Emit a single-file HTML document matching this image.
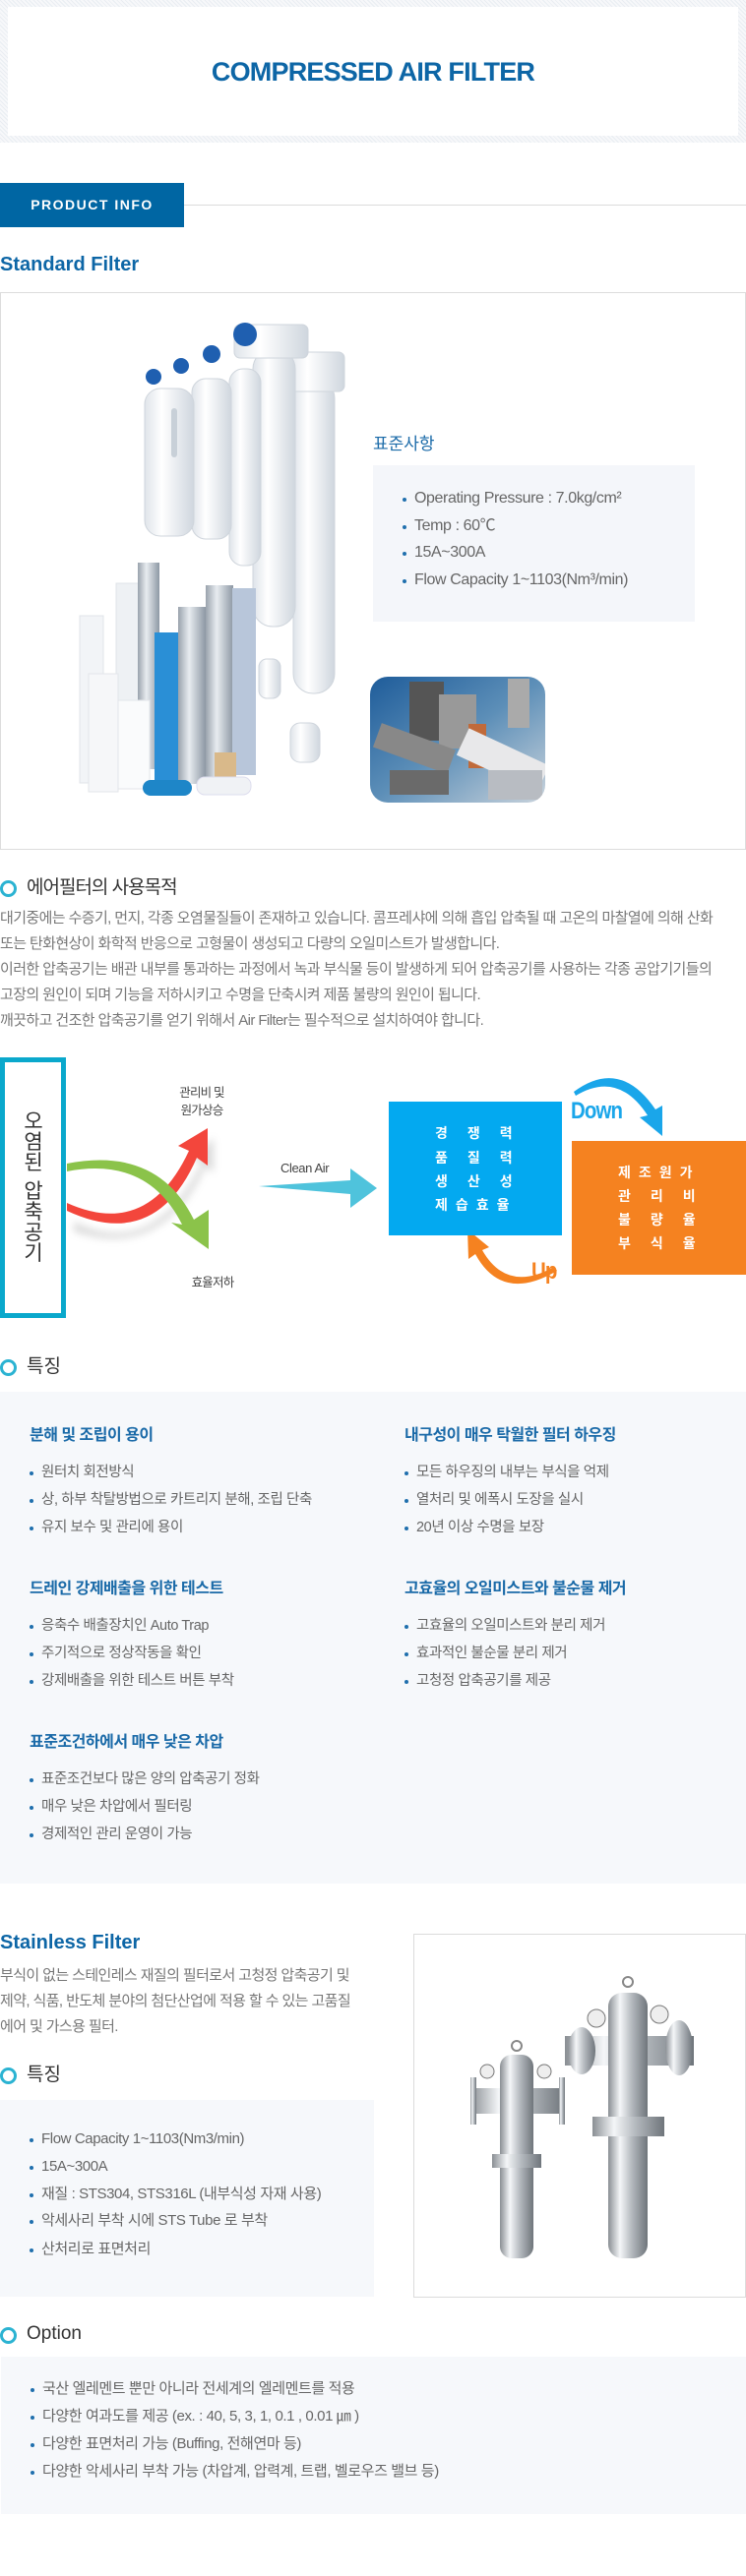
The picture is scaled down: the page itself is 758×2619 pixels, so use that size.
<!DOCTYPE html>
<html><head><meta charset="utf-8">
<style>
*{margin:0;padding:0;box-sizing:border-box}
body{width:758px;height:2619px;background:#fff;position:relative;overflow:hidden;font-family:"Liberation Sans","Noto Sans CJK KR",sans-serif;color:#666}
.a{position:absolute;white-space:nowrap}
.kr{font-family:"Liberation Sans","Noto Sans CJK KR",sans-serif}
.h{font-size:19px;color:#333;line-height:24px}
.ring{position:absolute;width:17px;height:17px;border:3px solid #2bb3d2;border-radius:50%}
.p{font-size:15px;letter-spacing:-0.6px;color:#777;line-height:20px}
.li{font-size:14.5px;color:#666;line-height:18px;letter-spacing:-0.4px}
.li:before{content:"";position:absolute;left:-12px;top:8px;width:4px;height:4px;border-radius:50%;background:#1f6fad}
.fh{font-size:16px;font-weight:bold;color:#1a6aa8;letter-spacing:-0.5px;line-height:20px}
.bt{color:#fff;font-size:14px;font-weight:bold;line-height:18px}
</style></head><body>

<!-- header -->
<div class="a" style="left:0;top:0;width:758px;height:145px;background:repeating-linear-gradient(45deg,#e9edf2 0 1px,#f7f8fa 1px 3px)"></div>
<div class="a" style="left:8px;top:7px;width:742px;height:131px;background:#fff"></div>
<div class="a" style="left:0;top:56px;width:758px;text-align:center;font-size:27px;font-weight:bold;color:#0d66a6;letter-spacing:-0.8px;line-height:34px">COMPRESSED AIR FILTER</div>

<!-- product info -->
<div class="a" style="left:187px;top:208px;width:571px;height:1px;background:#dcdcdc"></div>
<div class="a" style="left:0;top:186px;width:187px;height:45px;background:#0066a3;color:#fff;font-size:14px;font-weight:bold;letter-spacing:1.5px;text-align:center;line-height:45px">PRODUCT INFO</div>
<div class="a" style="left:0;top:256px;font-size:20px;font-weight:bold;color:#0d66a6;line-height:26px">Standard Filter</div>

<!-- standard box -->
<div class="a" style="left:0;top:297px;width:758px;height:567px;border:1px solid #dcdcdc"></div>
<svg class="a" style="left:70px;top:320px" width="300" height="500" viewBox="70 320 300 500">
 <defs>
  <linearGradient id="wg" x1="0" x2="1"><stop offset="0" stop-color="#dfe4ea"/><stop offset=".35" stop-color="#fff"/><stop offset="1" stop-color="#cfd6de"/></linearGradient>
  <linearGradient id="mg" x1="0" x2="1"><stop offset="0" stop-color="#9aa3ad"/><stop offset=".4" stop-color="#e8ecf0"/><stop offset="1" stop-color="#8d98a4"/></linearGradient>
 </defs>
 <rect x="298" y="385" width="42" height="320" rx="20" fill="url(#wg)" stroke="#cfd5dc"/>
 <rect x="292" y="358" width="58" height="40" rx="6" fill="url(#wg)" stroke="#cfd5dc"/>
 <rect x="257" y="355" width="43" height="282" rx="20" fill="url(#wg)" stroke="#cfd5dc"/>
 <rect x="238" y="330" width="75" height="34" rx="6" fill="url(#wg)" stroke="#cfd5dc"/>
 <circle cx="249" cy="340" r="12" fill="#1f5fb0"/>
 <rect x="233" y="375" width="32" height="200" rx="14" fill="url(#wg)" stroke="#cfd5dc"/>
 <circle cx="215" cy="360" r="9" fill="#1f5fb0"/>
 <rect x="195" y="385" width="40" height="163" rx="14" fill="url(#wg)" stroke="#cfd5dc"/>
 <circle cx="184" cy="372" r="8" fill="#1f5fb0"/>
 <rect x="147" y="395" width="50" height="150" rx="16" fill="url(#wg)" stroke="#cfd5dc"/>
 <circle cx="156" cy="383" r="8" fill="#1f5fb0"/>
 <rect x="174" y="415" width="6" height="50" rx="3" fill="#c8d0d8"/>
 <rect x="263" y="670" width="22" height="40" rx="8" fill="url(#wg)" stroke="#cfd5dc"/>
 <rect x="295" y="735" width="30" height="40" rx="10" fill="url(#wg)" stroke="#cfd5dc"/>
 <rect x="81" y="626" width="24" height="170" fill="#f2f4f7" stroke="#e0e4e8"/>
 <rect x="118" y="593" width="28" height="200" fill="#eef1f4" stroke="#e0e4e8"/>
 <rect x="140" y="572" width="22" height="210" fill="url(#mg)"/>
 <rect x="157" y="643" width="30" height="150" fill="#2a8fd6"/>
 <rect x="181" y="617" width="28" height="180" fill="url(#mg)"/>
 <rect x="209" y="595" width="28" height="200" fill="url(#mg)"/>
 <rect x="236" y="598" width="24" height="190" fill="#b8c6da"/>
 <rect x="90" y="685" width="30" height="120" fill="#f6f7f9" stroke="#e3e6ea"/>
 <rect x="120" y="712" width="32" height="90" fill="#fafbfc" stroke="#e3e6ea"/>
 <rect x="218" y="765" width="22" height="40" fill="#d9b98a"/>
 <rect x="145" y="793" width="50" height="16" rx="8" fill="#1e86c8"/>
 <rect x="200" y="790" width="55" height="18" rx="8" fill="#f0f2f5" stroke="#dde"/>
</svg>

<div class="a kr" style="left:379px;top:440px;font-size:17px;color:#1a6aa8;line-height:24px">표준사항</div>
<div class="a" style="left:379px;top:473px;width:327px;height:159px;background:#f4f6fa"></div>
<div class="a li" style="left:421px;top:498px;font-size:16px">Operating Pressure : 7.0kg/cm²</div>
<div class="a li" style="left:421px;top:526px;font-size:16px">Temp : 60℃</div>
<div class="a li" style="left:421px;top:553px;font-size:16px">15A~300A</div>
<div class="a li" style="left:421px;top:581px;font-size:16px">Flow Capacity 1~1103(Nm³/min)</div>

<svg class="a" style="left:376px;top:688px" width="178" height="128">
 <defs><clipPath id="cp"><rect width="178" height="128" rx="18"/></clipPath>
 <linearGradient id="bg1" x1="0" y1="0" x2="1" y2="1"><stop offset="0" stop-color="#1e5c9a"/><stop offset=".5" stop-color="#5d8fb8"/><stop offset="1" stop-color="#c9d3dc"/></linearGradient></defs>
 <g clip-path="url(#cp)">
  <rect width="178" height="128" fill="url(#bg1)"/>
  <rect x="40" y="5" width="35" height="60" fill="#555"/>
  <rect x="70" y="18" width="38" height="55" fill="#999"/>
  <rect x="100" y="48" width="18" height="45" fill="#c06a3a"/>
  <rect x="140" y="2" width="22" height="50" fill="#aaa"/>
  <rect x="5" y="60" width="80" height="26" fill="#888" transform="rotate(20 45 73)"/>
  <rect x="90" y="70" width="90" height="30" fill="#e8e8ea" transform="rotate(25 135 85)"/>
  <rect x="20" y="95" width="60" height="25" fill="#6a6a6a"/>
  <rect x="120" y="95" width="55" height="30" fill="#b8bcc2"/>
 </g>
</svg>

<!-- purpose -->
<div class="ring" style="left:0;top:895px"></div>
<div class="a h kr" style="left:27px;top:891px;letter-spacing:-1px">에어필터의 사용목적</div>
<div class="a p" style="left:0;top:924px">대기중에는 수증기, 먼지, 각종 오염물질들이 존재하고 있습니다. 콤프레샤에 의해 흡입 압축될 때 고온의 마찰열에 의해 산화</div>
<div class="a p" style="left:0;top:950px">또는 탄화현상이 화학적 반응으로 고형물이 생성되고 다량의 오일미스트가 발생합니다.</div>
<div class="a p" style="left:0;top:976px">이러한 압축공기는 배관 내부를 통과하는 과정에서 녹과 부식물 등이 발생하게 되어 압축공기를 사용하는 각종 공압기기들의</div>
<div class="a p" style="left:0;top:1002px">고장의 원인이 되며 기능을 저하시키고 수명을 단축시켜 제품 불량의 원인이 됩니다.</div>
<div class="a p" style="left:0;top:1028px">깨끗하고 건조한 압축공기를 얻기 위해서 Air Filter는 필수적으로 설치하여야 합니다.</div>

<!-- diagram -->
<div class="a" style="left:0;top:1075px;width:67px;height:265px;border:5px solid #0aa8cc"></div>
<div class="a kr" style="left:19px;top:1130px;width:30px;font-size:21px;color:#333;line-height:21px;white-space:normal;text-align:center">오<br>염<br>된<br><span style="display:block;height:8px"></span>압<br>축<br>공<br>기</div>
<svg class="a" style="left:0;top:1080px" width="758" height="260">
 <defs><filter id="sh"><feGaussianBlur stdDeviation="4"/></filter></defs>
 <path d="M70 150 Q150 190 200 90 L190 85 L212 65 L212 100 L204 94 Q160 190 70 160Z" fill="#999" opacity=".35" filter="url(#sh)" transform="translate(5,12)"/>
 <path d="M68 143 Q150 180 192 90 L181 85 L211 67 L211 105 L200 97 Q158 193 68 151Z" fill="#f3463c"/>
 <path d="M68 111 Q150 95 185 165 L174 163 L212 190 L212 150 L197 160 Q160 85 68 103Z" fill="#8bc34a"/>
 <path d="M263 126 L356 120 L356 108 L383 128 L356 148 L356 134 Z" fill="#4fc3dc"/>
 <path d="M583 30 Q630 -5 666 48 L673 44 L673 75 L650 56 L658 54 Q628 8 585 34Z" fill="#1aa6ea"/>
 <path d="M566 212 Q510 245 483 195 L476 200 L475 170 L497 188 L490 191 Q515 235 563 208Z" fill="#f58220"/>
</svg>
<div class="a kr" style="left:175px;top:1102px;width:60px;text-align:center;font-size:12.5px;color:#444;line-height:18px;letter-spacing:-0.8px">관리비 및<br>원가상승</div>
<div class="a kr" style="left:186px;top:1293px;width:60px;text-align:center;font-size:12.5px;color:#444;letter-spacing:-0.8px">효율저하</div>
<div class="a" style="left:285px;top:1180px;font-size:13px;color:#444;letter-spacing:-0.4px">Clean Air</div>
<div class="a" style="left:395px;top:1120px;width:176px;height:136px;background:#03a9f0"></div>
<div class="a kr bt" style="left:442px;top:1143px;letter-spacing:20px">경쟁력</div>
<div class="a kr bt" style="left:442px;top:1168px;letter-spacing:20px">품질력</div>
<div class="a kr bt" style="left:442px;top:1192px;letter-spacing:20px">생산성</div>
<div class="a kr bt" style="left:442px;top:1216px;letter-spacing:8px">제습효율</div>
<div class="a" style="left:581px;top:1160px;width:177px;height:136px;background:#f58220"></div>
<div class="a kr bt" style="left:628px;top:1183px;letter-spacing:8px">제조원가</div>
<div class="a kr bt" style="left:628px;top:1207px;letter-spacing:20px">관리비</div>
<div class="a kr bt" style="left:628px;top:1231px;letter-spacing:20px">불량율</div>
<div class="a kr bt" style="left:628px;top:1255px;letter-spacing:20px">부식율</div>
<div class="a" style="left:580px;top:1116px;font-size:24px;font-weight:bold;color:#1aa6ea;letter-spacing:-1px;transform:scaleX(.85);transform-origin:left">Down</div>
<div class="a" style="left:540px;top:1279px;font-size:24px;font-weight:bold;color:#f58220;letter-spacing:-1px;transform:scaleX(.85);transform-origin:left">Up</div>

<!-- features -->
<div class="ring" style="left:0;top:1382px"></div>
<div class="a h kr" style="left:27px;top:1378px">특징</div>
<div class="a" style="left:0;top:1415px;width:758px;height:500px;background:#f6f8fb"></div>
<div class="a fh kr" style="left:30px;top:1450px">분해 및 조립이 용이</div>
<div class="a li kr" style="left:42px;top:1488px">원터치 회전방식</div>
<div class="a li kr" style="left:42px;top:1516px">상, 하부 착탈방법으로 카트리지 분해, 조립 단축</div>
<div class="a li kr" style="left:42px;top:1544px">유지 보수 및 관리에 용이</div>
<div class="a fh kr" style="left:411px;top:1450px">내구성이 매우 탁월한 필터 하우징</div>
<div class="a li kr" style="left:423px;top:1488px">모든 하우징의 내부는 부식을 억제</div>
<div class="a li kr" style="left:423px;top:1516px">열처리 및 에폭시 도장을 실시</div>
<div class="a li kr" style="left:423px;top:1544px">20년 이상 수명을 보장</div>
<div class="a fh kr" style="left:30px;top:1606px">드레인 강제배출을 위한 테스트</div>
<div class="a li kr" style="left:42px;top:1644px">응축수 배출장치인 Auto Trap</div>
<div class="a li kr" style="left:42px;top:1672px">주기적으로 정상작동을 확인</div>
<div class="a li kr" style="left:42px;top:1700px">강제배출을 위한 테스트 버튼 부착</div>
<div class="a fh kr" style="left:411px;top:1606px">고효율의 오일미스트와 불순물 제거</div>
<div class="a li kr" style="left:423px;top:1644px">고효율의 오일미스트와 분리 제거</div>
<div class="a li kr" style="left:423px;top:1672px">효과적인 불순물 분리 제거</div>
<div class="a li kr" style="left:423px;top:1700px">고청정 압축공기를 제공</div>
<div class="a fh kr" style="left:30px;top:1762px">표준조건하에서 매우 낮은 차압</div>
<div class="a li kr" style="left:42px;top:1800px">표준조건보다 많은 양의 압축공기 정화</div>
<div class="a li kr" style="left:42px;top:1828px">매우 낮은 차압에서 필터링</div>
<div class="a li kr" style="left:42px;top:1856px">경제적인 관리 운영이 가능</div>

<!-- stainless -->
<div class="a" style="left:0;top:1962px;font-size:20px;font-weight:bold;color:#0d66a6;line-height:26px">Stainless Filter</div>
<div class="a p kr" style="left:0;top:1999px">부식이 없는 스테인레스 재질의 필터로서 고청정 압축공기 및</div>
<div class="a p kr" style="left:0;top:2025px">제약, 식품, 반도체 분야의 첨단산업에 적용 할 수 있는 고품질</div>
<div class="a p kr" style="left:0;top:2051px">에어 및 가스용 필터.</div>
<div class="ring" style="left:0;top:2102px"></div>
<div class="a h kr" style="left:27px;top:2098px">특징</div>
<div class="a" style="left:0;top:2135px;width:380px;height:200px;background:#f6f8fb"></div>
<div class="a li kr" style="left:42px;top:2166px;font-size:15px">Flow Capacity 1~1103(Nm3/min)</div>
<div class="a li kr" style="left:42px;top:2194px;font-size:15px">15A~300A</div>
<div class="a li kr" style="left:42px;top:2222px;font-size:15px">재질 : STS304, STS316L (내부식성 자재 사용)</div>
<div class="a li kr" style="left:42px;top:2249px;font-size:15px">악세사리 부착 시에 STS Tube 로 부착</div>
<div class="a li kr" style="left:42px;top:2278px;font-size:15px">산처리로 표면처리</div>

<div class="a" style="left:420px;top:1966px;width:338px;height:370px;border:1px solid #dcdcdc"></div>
<svg class="a" style="left:420px;top:1966px" width="338" height="370" viewBox="420 1966 338 370">
 <defs><linearGradient id="ss" x1="0" x2="1"><stop offset="0" stop-color="#8a8f94"/><stop offset=".3" stop-color="#f4f6f8"/><stop offset=".6" stop-color="#b4b9be"/><stop offset="1" stop-color="#6f757b"/></linearGradient></defs>
 <rect x="478" y="2123" width="96" height="26" fill="url(#ss)"/>
 <rect x="478" y="2112" width="6" height="48" fill="url(#ss)"/>
 <rect x="568" y="2112" width="6" height="48" fill="url(#ss)"/>
 <circle cx="495" cy="2106" r="7" fill="#eee" stroke="#777"/>
 <circle cx="553" cy="2106" r="7" fill="#eee" stroke="#777"/>
 <rect x="508" y="2089" width="34" height="207" rx="12" fill="url(#ss)"/>
 <rect x="500" y="2190" width="50" height="14" fill="url(#ss)"/>
 <circle cx="525" cy="2080" r="5" fill="none" stroke="#888" stroke-width="2"/>
 <rect x="574" y="2070" width="131" height="30" fill="url(#ss)"/>
 <ellipse cx="591" cy="2085" rx="14" ry="24" fill="url(#ss)"/>
 <ellipse cx="690" cy="2082" rx="14" ry="28" fill="url(#ss)"/>
 <circle cx="606" cy="2052" r="9" fill="#eee" stroke="#777"/>
 <circle cx="670" cy="2048" r="9" fill="#eee" stroke="#777"/>
 <rect x="618" y="2026" width="40" height="270" rx="14" fill="url(#ss)"/>
 <rect x="602" y="2152" width="73" height="20" fill="url(#ss)"/>
 <circle cx="638" cy="2015" r="5" fill="none" stroke="#888" stroke-width="2"/>
</svg>

<!-- option -->
<div class="ring" style="left:0;top:2366px"></div>
<div class="a h" style="left:27px;top:2361px">Option</div>
<div class="a" style="left:1px;top:2396px;width:757px;height:160px;background:#f6f8fb"></div>
<div class="a li kr" style="left:43px;top:2420px;font-size:15px">국산 엘레멘트 뿐만 아니라 전세계의 엘레멘트를 적용</div>
<div class="a li kr" style="left:43px;top:2448px;font-size:15px">다양한 여과도를 제공 (ex. : 40, 5, 3, 1, 0.1 , 0.01 ㎛ )</div>
<div class="a li kr" style="left:43px;top:2476px;font-size:15px">다양한 표면처리 가능 (Buffing, 전해연마 등)</div>
<div class="a li kr" style="left:43px;top:2504px;font-size:15px">다양한 악세사리 부착 가능 (차압계, 압력계, 트랩, 벨로우즈 밸브 등)</div>
</body></html>
